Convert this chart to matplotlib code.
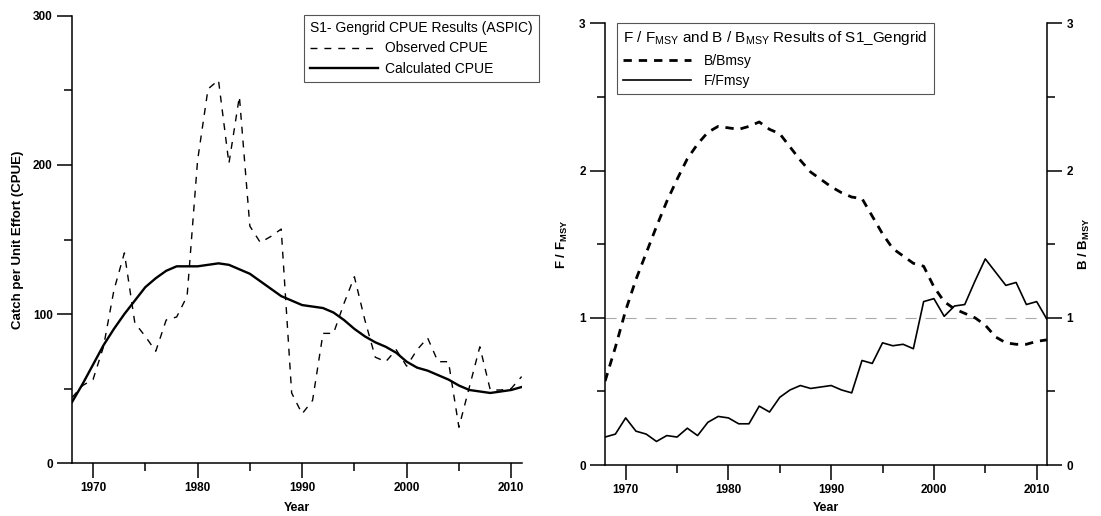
import numpy as np
import matplotlib
matplotlib.use("Agg")
import matplotlib.pyplot as plt
from matplotlib.ticker import MultipleLocator

plt.rcParams['font.family'] = ['Liberation Sans', 'DejaVu Sans']
plt.rcParams['mathtext.fontset'] = 'custom'
plt.rcParams['mathtext.rm'] = 'Liberation Sans'
plt.rcParams['mathtext.bf'] = 'Liberation Sans:bold'
plt.rcParams['mathtext.it'] = 'Liberation Sans:italic'

# data
years = np.arange(1968, 2012)

observed_cpue = [44, 52, 56, 78, 116, 141, 94, 85, 75, 96, 98, 112, 203, 251,
                 257, 201, 246, 159, 148, 152, 157, 47, 33, 42, 87, 87, 107, 125,
                 96, 71, 68, 76, 65, 76, 84, 68, 68, 24, 51, 78, 49, 49, 50, 58]
calculated_cpue = [41, 53, 66, 79, 90, 100, 109, 118, 124, 129, 132, 132, 132, 133,
                   134, 133, 130, 127, 122, 117, 112, 109, 106, 105, 104, 101, 96, 90,
                   85, 81, 78, 74, 68, 64, 62, 59, 56, 52, 49, 48, 47, 48, 49, 51]

f_fmsy = [0.19, 0.21, 0.32, 0.23, 0.21, 0.16, 0.20, 0.19, 0.25, 0.20, 0.29, 0.33,
          0.32, 0.28, 0.28, 0.40, 0.36, 0.46, 0.51, 0.54, 0.52, 0.53, 0.54, 0.51,
          0.49, 0.71, 0.69, 0.83, 0.81, 0.82, 0.79, 1.11, 1.13, 1.01, 1.08, 1.09,
          1.25, 1.40, 1.31, 1.22, 1.24, 1.09, 1.11, 0.99]
b_bmsy = [0.57, 0.80, 1.05, 1.26, 1.44, 1.62, 1.79, 1.94, 2.08, 2.18, 2.26, 2.30,
          2.29, 2.28, 2.30, 2.33, 2.28, 2.25, 2.16, 2.07, 1.99, 1.94, 1.89, 1.85,
          1.82, 1.81, 1.69, 1.57, 1.47, 1.42, 1.37, 1.35, 1.21, 1.11, 1.06, 1.03,
          1.00, 0.95, 0.87, 0.83, 0.82, 0.82, 0.84, 0.85]

fig = plt.figure(figsize=(11.01, 5.16), dpi=100)
ax1 = fig.add_axes([0.0655, 0.1027, 0.4083, 0.8663])
ax2 = fig.add_axes([0.5496, 0.0988, 0.4013, 0.8560])


def style_axis(ax):
    ax.spines['top'].set_visible(False)
    for s in ax.spines.values():
        s.set_linewidth(1.1)
    ax.xaxis.set_major_locator(MultipleLocator(10))
    ax.xaxis.set_minor_locator(MultipleLocator(5))
    ax.tick_params(which='major', direction='out', length=11, width=1.1,
                   labelsize=8.5, pad=3)
    ax.tick_params(which='minor', direction='out', length=5.5, width=1.1)
    for lab in ax.get_xticklabels() + ax.get_yticklabels():
        lab.set_fontweight('bold')
    ax.set_xlim(1968, 2011)


# left panel: CPUE
ax1.plot(years, observed_cpue, color='black', lw=1.0, dashes=(5, 5),
         label='Observed CPUE')
ax1.plot(years, calculated_cpue, color='black', lw=1.7, label='Calculated CPUE')
ax1.spines['right'].set_visible(False)
ax1.set_ylim(0, 300)
ax1.yaxis.set_major_locator(MultipleLocator(100))
ax1.yaxis.set_minor_locator(MultipleLocator(50))
style_axis(ax1)
ax1.set_ylabel('Catch per Unit Effort (CPUE)', fontsize=9.5, fontweight='bold')
ax1.yaxis.set_label_coords(-0.108, 0.5)
ax1.set_xlabel('Year', fontsize=9, fontweight='bold', va='center')
ax1.xaxis.set_label_coords(0.5, -0.1)

leg1 = ax1.legend(title='S1- Gengrid CPUE Results (ASPIC)', loc='upper left',
                  bbox_to_anchor=(0.276, 0.971), bbox_transform=fig.transFigure,
                  borderaxespad=0, fontsize=10, title_fontsize=10,
                  handlelength=4.9, handletextpad=0.5, fancybox=False,
                  edgecolor='#555555', framealpha=1, alignment='left',
                  borderpad=0.45, labelspacing=0.45)
leg1.get_frame().set_linewidth(0.8)

# right panel: F/Fmsy and B/Bmsy
ax2.plot(years, b_bmsy, color='black', lw=2.0, dashes=(3, 2.5), label='B/Bmsy')
ax2.plot(years, f_fmsy, color='black', lw=1.2, label='F/Fmsy')
ax2.axhline(1, color='#aaaaaa', lw=0.8, dashes=(10, 8), zorder=0)
ax2.set_ylim(0, 3)
ax2.yaxis.set_major_locator(MultipleLocator(1))
ax2.yaxis.set_minor_locator(MultipleLocator(0.5))
ax2.tick_params(axis='y', which='both', left=True, right=True, labelright=True)
style_axis(ax2)
ax2.set_ylabel(r'$\mathbf{F\ /\ F_{MSY}}$', fontsize=9.5)
ax2.yaxis.set_label_coords(-0.08, 0.5)
ax2.set_xlabel('Year', fontsize=9, fontweight='bold', va='center')
ax2.xaxis.set_label_coords(0.5, -0.098)
ax2.text(1.085, 0.5, r'$\mathbf{B\ /\ B_{MSY}}$', fontsize=9.5, rotation=90,
         ha='center', va='center', transform=ax2.transAxes)

leg2 = ax2.legend(title=r'F / F$_{\mathrm{MSY}}$ and B / B$_{\mathrm{MSY}}$ Results of S1_Gengrid',
                  loc='upper left', bbox_to_anchor=(0.5604, 0.9554),
                  bbox_transform=fig.transFigure, borderaxespad=0,
                  fontsize=10, title_fontsize=11, handlelength=4.9,
                  handletextpad=0.9, fancybox=False, edgecolor='#555555',
                  framealpha=1, alignment='left', borderpad=0.45,
                  labelspacing=0.45)
leg2.get_frame().set_linewidth(0.8)

fig.savefig('out.png', dpi=100)
